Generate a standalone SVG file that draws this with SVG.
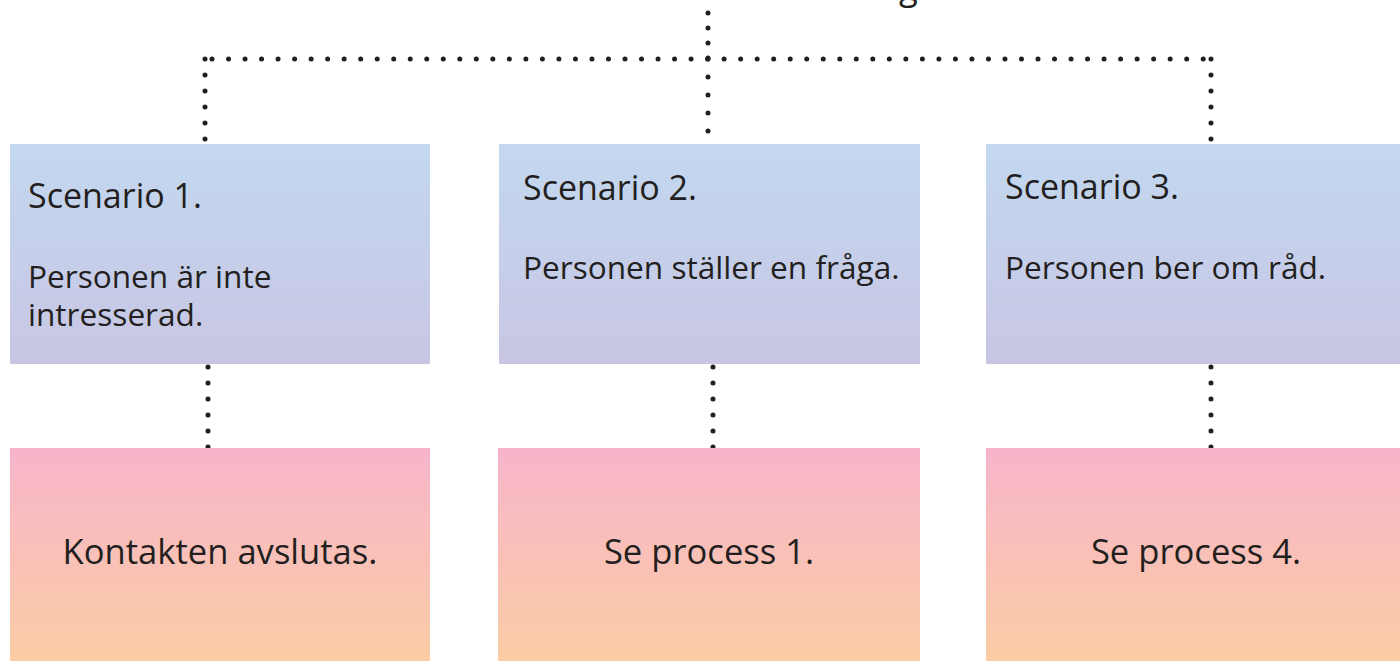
<svg xmlns="http://www.w3.org/2000/svg" width="1400" height="661" viewBox="0 0 1400 661">
  <defs>
    <linearGradient id="gTop" x1="0" y1="0" x2="0" y2="1">
      <stop offset="0" stop-color="#C3D8F0"/>
      <stop offset="1" stop-color="#C8C6E3"/>
    </linearGradient>
    <linearGradient id="gBot" x1="0" y1="0" x2="0" y2="1">
      <stop offset="0" stop-color="#F7B4CB"/>
      <stop offset="1" stop-color="#FBCDA3"/>
    </linearGradient>
    <style>
      .txt { font-family: "Open Sans", "Noto Sans", sans-serif; fill: #231F20; }
      .head { font-size: 34px; }
      .body { font-size: 31.6px; }
      .res { font-size: 34.6px; }
      .dot { fill: none; stroke: #231F20; stroke-width: 5; stroke-linecap: round; }
    </style>
  </defs>
  <rect width="1400" height="661" fill="#FFFFFF"/>

  <text class="txt res" x="899" y="0">g</text>

  <g id="connectors">
    <path class="dot" d="M708 13 V58.5" stroke-dasharray="0 15"/>
    <path class="dot" d="M212 59 H1203.5" stroke-dasharray="0 16.52"/>
    <path class="dot" d="M205 59 V139.5" stroke-dasharray="0 16"/>
    <path class="dot" d="M708 59 V131.5" stroke-dasharray="0 18"/>
    <path class="dot" d="M1211 59 V139.5" stroke-dasharray="0 16"/>
    <path class="dot" d="M208 367 V447.5" stroke-dasharray="0 16"/>
    <path class="dot" d="M713 367 V447.5" stroke-dasharray="0 16"/>
    <path class="dot" d="M1211 367 V447.5" stroke-dasharray="0 16"/>
  </g>

  <g id="scenario1">
    <rect x="10" y="144" width="420" height="220" fill="url(#gTop)"/>
    <text class="txt head" x="28" y="208">Scenario 1.</text>
    <text class="txt body" x="28" y="288">Personen är inte</text>
    <text class="txt body" x="28" y="326">intresserad.</text>
  </g>
  <g id="scenario2">
    <rect x="499" y="144" width="421" height="220" fill="url(#gTop)"/>
    <text class="txt head" x="523" y="200">Scenario 2.</text>
    <text class="txt body" x="523" y="279">Personen ställer en fråga.</text>
  </g>
  <g id="scenario3">
    <rect x="986" y="144" width="420" height="220" fill="url(#gTop)"/>
    <text class="txt head" x="1005" y="199">Scenario 3.</text>
    <text class="txt body" x="1005" y="279">Personen ber om råd.</text>
  </g>

  <g id="result1">
    <rect x="10" y="448" width="420" height="220" fill="url(#gBot)"/>
    <text class="txt res" x="220" y="564" text-anchor="middle">Kontakten avslutas.</text>
  </g>
  <g id="result2">
    <rect x="498" y="448" width="422" height="220" fill="url(#gBot)"/>
    <text class="txt res" x="709" y="564" text-anchor="middle">Se process 1.</text>
  </g>
  <g id="result3">
    <rect x="986" y="448" width="420" height="220" fill="url(#gBot)"/>
    <text class="txt res" x="1196" y="564" text-anchor="middle">Se process 4.</text>
  </g>
</svg>
